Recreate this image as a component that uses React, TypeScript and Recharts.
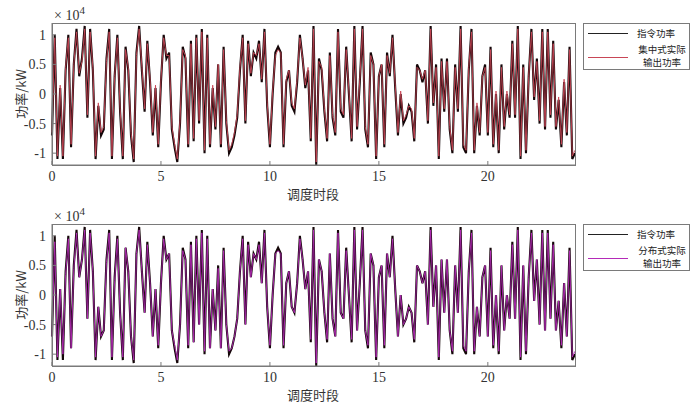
import { LineChart, Line, XAxis, YAxis } from 'recharts'

// 调度时段 grid: one point every 1/8 h, 0..24
const SLOT = 0.125
const X_TICKS = [0, 5, 10, 15, 20]
const Y_TICKS = [-1, -0.5, 0, 0.5, 1]

// 指令功率 (×10^4 kW)
const COMMAND = [
  -0.7, 1.0, -1.1, 0.1, -1.1, 0.4, 1.0, -0.9,
  0.5, 1.1, 0.3, 0.6, 1.15, -0.4, 1.1, 0.4,
  -1.1, -0.2, -0.7, -0.6, 0.6, 1.1, -1.1, 0.3,
  1.0, -0.3, -1.1, 0.8, 0.4, -0.7, -1.15, 0.7,
  1.15, 0.4, -0.3, 0.9, 0.2, -0.7, 0.1, -0.9,
  0.2, 1.0, 0.6, 0.7, -0.6, -0.9, -1.15, -0.5,
  0.8, 0.6, -0.9, 0.9, -0.8, 1.0, -0.5, 1.1,
  -1.0, 1.0, -0.9, 0.1, -0.6, 0.5, -0.9, 0.8,
  -0.5, -1.0, -0.9, -0.7, -0.4, 0.4, 1.0, -0.5,
  0.9, 0.3, 0.7, 0.6, 0.9, 0.2, 1.1, -0.2,
  -0.9, 0.0, 0.7, 0.8, 0.7, -0.9, 0.2, 0.4,
  -0.2, -0.3, 0.2, 1.0, 0.6, 0.1, 0.4, -0.8,
  1.15, -1.2, 0.6, 0.4, -0.3, -0.8, 0.7, -0.4,
  -0.7, 1.1, -0.3, -0.4, 0.8, 0.0, -0.8, 1.15,
  -0.6, 0.2, 1.15, -0.6, -0.9, 0.7, 0.5, -1.1,
  0.3, 0.5, -0.9, 0.7, 0.3, 1.0, 0.1, -0.7,
  0.0, -0.5, -0.4, -0.2, -0.3, -0.8, 0.5, 0.4,
  0.2, 0.4, -0.5, 1.15, -0.2, 0.5, -1.1, 0.6,
  -0.3, 0.6, -0.6, -1.0, 0.5, -0.3, 1.15, -0.9,
  -1.0, 0.4, 1.1, -1.0, -0.2, -0.7, 0.3, 0.5,
  -0.7, 0.8, -0.9, 0.0, -1.0, 0.5, -0.6, 0.0,
  -0.4, 0.9, -0.4, 1.15, -1.1, 0.5, -1.0, 0.3,
  1.1, -0.1, 0.6, -0.5, 1.1, -0.6, 1.1, -0.4,
  0.9, -0.6, -0.1, -0.9, 0.2, -0.7, 0.8, -1.1,
  -1.0,
]

// 集中式实际输出功率
const CENTRAL = [
  -0.65, 0.95, -1.05, 0.15, -1.05, 0.45, 0.95, -0.85,
  0.5, 1.05, 0.35, 0.55, 1.1, -0.35, 1.05, 0.45,
  -1.05, -0.15, -0.65, -0.55, 0.55, 1.05, -1.05, 0.3,
  0.95, -0.25, -1.05, 0.75, 0.45, -0.65, -1.1, 0.65,
  1.1, 0.45, -0.25, 0.85, 0.25, -0.65, 0.15, -0.85,
  0.25, 0.95, 0.65, 0.65, -0.55, -0.85, -1.1, -0.45,
  0.75, 0.65, -0.85, 0.85, -0.75, 0.95, -0.45, 1.05,
  -0.95, 0.95, -0.85, 0.15, -0.55, 0.5, -0.85, 0.75,
  -0.45, -0.95, -0.85, -0.65, -0.35, 0.45, 0.95, -0.45,
  0.85, 0.35, 0.7, 0.65, 0.85, 0.25, 1.05, -0.15,
  -0.85, 0.05, 0.65, 0.75, 0.7, -0.85, 0.25, 0.4,
  -0.15, -0.25, 0.25, 0.95, 0.6, 0.15, 0.45, -0.75,
  1.1, -1.15, 0.55, 0.45, -0.25, -0.75, 0.65, -0.35,
  -0.65, 1.05, -0.25, -0.35, 0.75, 0.05, -0.75, 1.1,
  -0.55, 0.25, 1.1, -0.55, -0.85, 0.65, 0.5, -1.05,
  0.3, 0.5, -0.85, 0.65, 0.35, 0.95, 0.15, -0.65,
  0.05, -0.45, -0.35, -0.2, -0.25, -0.75, 0.45, 0.4,
  0.25, 0.4, -0.45, 1.1, -0.15, 0.45, -1.05, 0.55,
  -0.25, 0.55, -0.55, -0.95, 0.45, -0.25, 1.1, -0.85,
  -0.95, 0.45, 1.05, -0.95, -0.15, -0.65, 0.3, 0.45,
  -0.65, 0.75, -0.85, 0.05, -0.95, 0.45, -0.55, 0.05,
  -0.35, 0.85, -0.35, 1.1, -1.05, 0.45, -0.95, 0.3,
  1.05, -0.05, 0.55, -0.45, 1.05, -0.55, 1.05, -0.35,
  0.85, -0.55, -0.05, -0.85, 0.25, -0.65, 0.75, -1.05,
  -0.95,
]

// 分布式实际输出功率
const DISTRIBUTED = [
  -0.7, 0.9, -1.05, 0.1, -1.0, 0.35, 0.95, -0.9,
  0.45, 1.05, 0.3, 0.6, 1.1, -0.4, 1.05, 0.4,
  -1.05, -0.2, -0.7, -0.6, 0.55, 1.05, -1.05, 0.25,
  0.95, -0.3, -1.05, 0.8, 0.4, -0.7, -1.1, 0.7,
  1.1, 0.4, -0.3, 0.85, 0.2, -0.7, 0.1, -0.85,
  0.2, 0.95, 0.6, 0.7, -0.6, -0.85, -1.1, -0.5,
  0.75, 0.6, -0.85, 0.85, -0.8, 0.95, -0.5, 1.05,
  -0.95, 0.95, -0.9, 0.1, -0.6, 0.45, -0.9, 0.75,
  -0.5, -0.95, -0.9, -0.7, -0.4, 0.4, 0.95, -0.5,
  0.85, 0.3, 0.7, 0.6, 0.85, 0.2, 1.05, -0.2,
  -0.85, 0.0, 0.7, 0.75, 0.7, -0.85, 0.2, 0.4,
  -0.2, -0.3, 0.2, 0.95, 0.6, 0.1, 0.4, -0.75,
  1.1, -1.15, 0.6, 0.4, -0.3, -0.75, 0.7, -0.4,
  -0.7, 1.05, -0.3, -0.4, 0.75, 0.0, -0.75, 1.1,
  -0.6, 0.2, 1.1, -0.6, -0.85, 0.7, 0.5, -1.05,
  0.3, 0.5, -0.85, 0.7, 0.3, 0.95, 0.1, -0.7,
  0.0, -0.5, -0.4, -0.2, -0.3, -0.75, 0.5, 0.4,
  0.2, 0.4, -0.5, 1.1, -0.2, 0.5, -1.05, 0.6,
  -0.3, 0.6, -0.6, -0.95, 0.5, -0.3, 1.1, -0.85,
  -0.95, 0.4, 1.05, -0.95, -0.2, -0.7, 0.3, 0.5,
  -0.7, 0.75, -0.85, 0.0, -0.95, 0.5, -0.6, 0.0,
  -0.4, 0.85, -0.4, 1.1, -1.05, 0.5, -0.95, 0.3,
  1.05, -0.1, 0.6, -0.5, 1.05, -0.6, 1.05, -0.4,
  0.85, -0.6, -0.1, -0.85, 0.2, -0.7, 0.75, -1.05,
  -0.95,
]

const SERIF = '"Liberation Serif", "DejaVu Serif", serif'
const CJK = '"Noto Sans CJK SC", "Noto Sans", sans-serif'
const TEXT = '#333'
const BOX = '#7a7a7a'

function Panel({ top, actual, color, label }: { top: number; actual: number[]; color: string; label: string[] }) {
  const data = COMMAND.map((v, i) => ({ t: i * SLOT, cmd: v, act: actual[i] }))
  const tick = { fontSize: 14, fill: TEXT, fontFamily: SERIF }
  return (
    <div style={{ position: 'absolute', left: 0, top, width: 697, height: 200 }}>
      <LineChart width={697} height={200} data={data} margin={{ top: 23, right: 122, bottom: 5, left: 0 }}>
        <XAxis
          dataKey="t"
          type="number"
          domain={[0, 24]}
          ticks={X_TICKS}
          tick={tick}
          height={30}
          tickSize={-4}
          tickMargin={10}
          stroke={BOX}
        />
        <YAxis
          type="number"
          domain={[-1.2, 1.2]}
          ticks={Y_TICKS}
          tick={tick}
          width={52}
          tickSize={-4}
          tickMargin={10}
          stroke={BOX}
          allowDataOverflow
        />
        <Line dataKey="cmd" stroke="#140608" strokeWidth={2.1} dot={false} isAnimationActive={false} />
        <Line dataKey="act" stroke={color} strokeWidth={0.9} dot={false} isAnimationActive={false} />
      </LineChart>

      {/* box around the axes */}
      <div style={{ position: 'absolute', left: 52, top: 23, width: 522, height: 141, border: `1px solid ${BOX}`, pointerEvents: 'none' }} />

      <div style={{ position: 'absolute', left: 54, top: 4, fontFamily: SERIF, fontSize: 14, color: TEXT, whiteSpace: 'nowrap' }}>
        × 10<sup style={{ fontSize: 11 }}>4</sup>
      </div>
      <div style={{ position: 'absolute', left: 20, top: 94, transform: 'translate(-50%, -50%) rotate(-90deg)', fontFamily: CJK, fontSize: 13, color: TEXT, whiteSpace: 'nowrap' }}>
        功率/kW
      </div>
      <div style={{ position: 'absolute', left: 313, top: 193, transform: 'translate(-50%, -50%)', fontFamily: CJK, fontSize: 13, color: TEXT, whiteSpace: 'nowrap' }}>
        调度时段
      </div>

      {/* legend */}
      <div style={{ position: 'absolute', left: 583, top: 23, width: 105, height: 45, border: `1px solid ${BOX}`, background: '#fff', fontFamily: CJK, fontSize: 9.5, lineHeight: '12px', color: '#222' }}>
        <div style={{ position: 'absolute', left: 4, top: 9, width: 40, borderTop: '1px solid #222' }} />
        <div style={{ position: 'absolute', left: 53, top: 3, whiteSpace: 'nowrap' }}>指令功率</div>
        <div style={{ position: 'absolute', left: 4, top: 33, width: 40, borderTop: `1px solid ${color}` }} />
        <div style={{ position: 'absolute', left: 51, top: 19, width: 54, textAlign: 'center', whiteSpace: 'nowrap' }}>{label[0]}</div>
        <div style={{ position: 'absolute', left: 51, top: 32, width: 54, textAlign: 'center', whiteSpace: 'nowrap' }}>{label[1]}</div>
      </div>
    </div>
  )
}

export default function App() {
  return (
    <div style={{ position: 'absolute', left: 0, top: 0, width: 697, height: 411, background: '#fff' }}>
      <Panel top={0} actual={CENTRAL} color="#c84656" label={['集中式实际', '输出功率']} />
      <Panel top={201} actual={DISTRIBUTED} color="#b42ab8" label={['分布式实际', '输出功率']} />
    </div>
  )
}
